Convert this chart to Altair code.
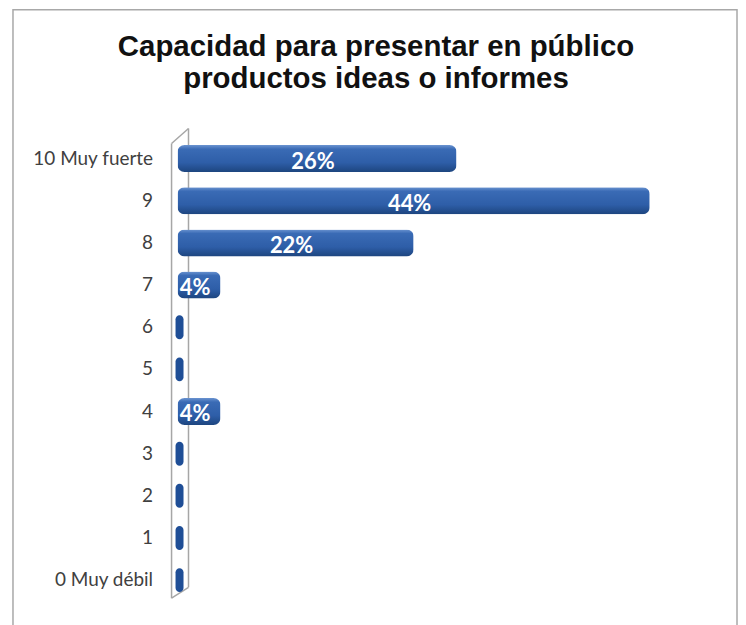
import altair as alt
import pandas as pd

categories = ["10 Muy fuerte", "9", "8", "7", "6", "5", "4", "3", "2", "1", "0 Muy débil"]
values = [26, 44, 22, 4, 0, 0, 4, 0, 0, 0, 0]
labels = ["26%", "44%", "22%", "4%", "", "", "4%", "", "", "", ""]
title_lines = ["Capacidad para presentar en público", "productos ideas o informes"]

df = pd.DataFrame({"cat": categories, "value": values, "label": labels})

W, H = 538, 465

y_enc = alt.Y(
    "cat:N", sort=categories,
    scale=alt.Scale(paddingInner=0.36, paddingOuter=0.18),
    axis=alt.Axis(title=None, domain=False, ticks=False, grid=False, labelPadding=25,
                  labelFontSize=19, labelFont="Lato", labelColor="#404040"),
)
x_scale = alt.Scale(domain=[0, 50])

grad = alt.Gradient(
    gradient="linear", x1=0, x2=0, y1=0, y2=1,
    stops=[
        alt.GradientStop(color="#6A93D0", offset=0),
        alt.GradientStop(color="#3A6BB5", offset=0.15),
        alt.GradientStop(color="#2E5EA8", offset=0.65),
        alt.GradientStop(color="#1D457F", offset=1),
    ],
)

one = alt.Data(values=[{"k": 1}])

frame = alt.Chart(one).mark_rect(fillOpacity=0, stroke="#a8a8a8", strokeWidth=1.5).encode(
    x=alt.value(-165), x2=alt.value(561), y=alt.value(-128), y2=alt.value(490)
)

wall_style = dict(color="#a6a6a6", strokeWidth=1.5)
wall = [
    alt.Chart(one).mark_rule(**wall_style).encode(x=alt.value(-6), x2=alt.value(-6), y=alt.value(6), y2=alt.value(462)),
    alt.Chart(one).mark_rule(**wall_style).encode(x=alt.value(11), x2=alt.value(11), y=alt.value(-9), y2=alt.value(451)),
    alt.Chart(one).mark_rule(**wall_style).encode(x=alt.value(-6), x2=alt.value(11), y=alt.value(6), y2=alt.value(-9)),
    alt.Chart(one).mark_rule(**wall_style).encode(x=alt.value(-6), x2=alt.value(11), y=alt.value(462), y2=alt.value(451)),
]

bars = alt.Chart(df).transform_filter("datum.value > 0").mark_bar(color=grad, cornerRadius=7).encode(
    y=y_enc, x=alt.X("value:Q", scale=x_scale, axis=None)
)

zeros = alt.Chart(df).transform_filter("datum.value == 0").mark_tick(
    orient="vertical", thickness=8, size=24, cornerRadius=4, color="#1F4E96", xOffset=2, opacity=1
).encode(y=y_enc, x=alt.X("value:Q", scale=x_scale, axis=None))

texts = alt.Chart(df).transform_filter("datum.value > 0").transform_calculate(
    mid="datum.value / 2"
).mark_text(color="white", fontWeight="bold", font="Lato", fontSize=22, dx=-4, dy=3).encode(
    y=y_enc, x=alt.X("mid:Q", scale=x_scale, axis=None), text="label:N"
)

t1 = alt.Chart(one).mark_text(text=title_lines[0], font="Liberation Sans", fontWeight="bold",
                              fontSize=29.5, color="#111111", align="center", baseline="middle").encode(
    x=alt.value(199), y=alt.value(-91))
t2 = alt.Chart(one).mark_text(text=title_lines[1], font="Liberation Sans", fontWeight="bold",
                              fontSize=29.5, color="#111111", align="center", baseline="middle").encode(
    x=alt.value(199), y=alt.value(-59))

chart = alt.layer(frame, *wall, bars, zeros, texts, t1, t2).properties(
    width=W, height=H, padding={"left": 4, "top": 0, "right": 0, "bottom": 0}
).configure_view(strokeWidth=0)

chart.save("out.html", embed_options={"renderer": "svg", "actions": False})
